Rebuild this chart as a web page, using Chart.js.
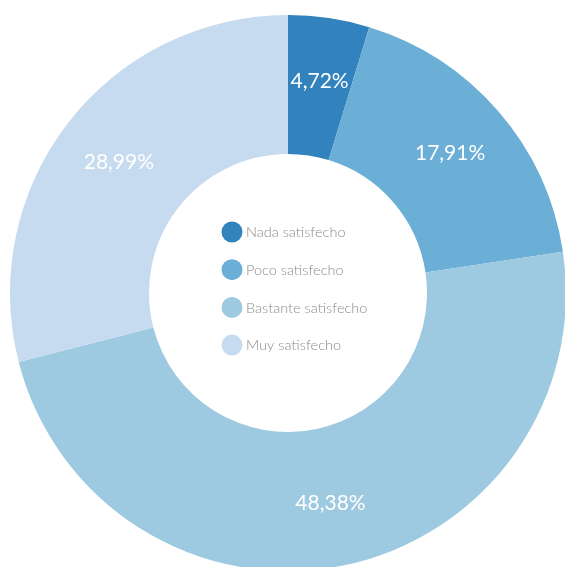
<!DOCTYPE html>
<html>
<head>
<meta charset="utf-8">
<script src="https://cdn.jsdelivr.net/npm/chart.js@4"></script>
<style>
  html, body { margin: 0; padding: 0; background: #ffffff; overflow: hidden; }
  #wrap { width: 565px; height: 567px; overflow: hidden; position: relative; }
  canvas { position: absolute; left: 0; top: 0; }
</style>
</head>
<body>
<div id="wrap"><canvas id="satisfaccion" width="576" height="586"></canvas></div>
<script>
// Datos
const categories = ["Nada satisfecho", "Poco satisfecho", "Bastante satisfecho", "Muy satisfecho"]
const percentages = [4.72, 17.91, 48.38, 28.99]

const sliceColors = ["#3182bd", "#6baed6", "#9ecae1", "#c6dbef"]
const fontFamily = "Lato, 'Open Sans', sans-serif"

// percent labels inside each slice
const sliceLabels = {
  id: "sliceLabels",
  afterDatasetsDraw: (chart) => {
    const ctx = chart.ctx
    const meta = chart.getDatasetMeta(0)
    ctx.save()
    ctx.fillStyle = "#ffffff"
    ctx.font = "400 21px " + fontFamily
    ctx.textAlign = "center"
    ctx.textBaseline = "middle"
    meta.data.forEach((arc, i) => {
      const p = arc.getProps(["x", "y", "startAngle", "endAngle", "innerRadius", "outerRadius"], true)
      const mid = (p.startAngle + p.endAngle) / 2
      const r = p.innerRadius + (p.outerRadius - p.innerRadius) * 0.54
      const x = p.x + Math.cos(mid) * r
      const y = p.y + Math.sin(mid) * r
      ctx.fillText(percentages[i].toFixed(2).replace(".", ",") + "%", x, y)
    })
    ctx.restore()
  },
}

// legend drawn in the hole of the donut
const centerLegend = {
  id: "centerLegend",
  afterDraw: (chart) => {
    const ctx = chart.ctx
    const arc = chart.getDatasetMeta(0).data[0]
    const cx = arc.x
    const cy = arc.y
    const rowGap = 37.7
    const top = cy - 61
    ctx.save()
    ctx.font = "300 14.5px " + fontFamily
    ctx.textBaseline = "middle"
    ctx.textAlign = "left"
    categories.forEach((label, i) => {
      const y = top + i * rowGap
      ctx.beginPath()
      ctx.arc(cx - 56, y, 10.5, 0, Math.PI * 2)
      ctx.fillStyle = sliceColors[i]
      ctx.fill()
      ctx.fillStyle = "#8c8c8c"
      ctx.fillText(label, cx - 42, y + 0.5)
    })
    ctx.restore()
  },
}

new Chart(document.getElementById("satisfaccion"), {
  type: "doughnut",
  data: {
    labels: categories,
    datasets: [
      {
        data: percentages,
        backgroundColor: sliceColors,
        borderWidth: 0,
      },
    ],
  },
  options: {
    responsive: false,
    animation: false,
    cutout: "50%",
    layout: {
      padding: 10,
    },
    plugins: {
      legend: { display: false },
      tooltip: { enabled: false },
    },
  },
  plugins: [sliceLabels, centerLegend],
})
</script>
</body>
</html>
